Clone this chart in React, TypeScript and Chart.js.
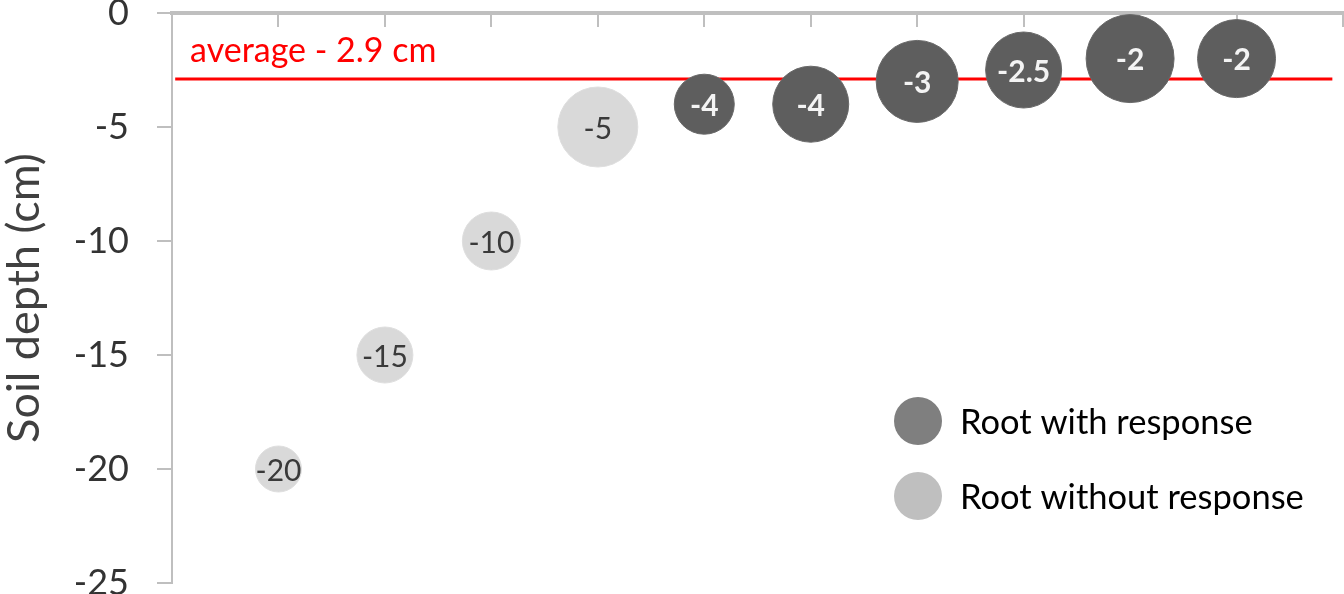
import { useEffect, useRef } from "react";
import { Chart, registerables } from "chart.js";

Chart.register(...registerables);

// ---- data ----
const rootPositions = [1, 2, 3, 4, 5, 6, 7, 8, 9, 10];
const rootDepths = [-20, -15, -10, -5, -4, -4, -3, -2.5, -2, -2];
const bubbleSizes = [23, 28, 29, 40, 30, 38, 41, 38, 44, 39];
const hasResponse = [false, false, false, false, true, true, true, true, true, true];
const averageDepth = -2.9;
const averageLabel = "average - 2.9 cm";
const seriesNames = ["Root with response", "Root without response"];
const yAxisTitle = "Soil depth (cm)";
const yMin = -25;
const yMax = 0;
const yStep = 5;
const xMin = 0;
const xMax = 11;

const FONT = 'Lato, "Noto Sans", "DejaVu Sans", sans-serif';
const DARK = "#5e5e5e";
const LIGHT = "#d9d9d9";
const LEGEND_DARK = "#7f7f7f";
const LEGEND_LIGHT = "#bfbfbf";
const AXIS_GRAY = "#bfbfbf";

function buildPoints(flag: boolean) {
  const pts: { x: number; y: number; r: number }[] = [];
  rootPositions.forEach((x, i) => {
    if (hasResponse[i] === flag) pts.push({ x, y: rootDepths[i], r: bubbleSizes[i] });
  });
  return pts;
}

const decorPlugin = {
  id: "decor",
  beforeDatasetsDraw(chart: any) {
    const { ctx, scales } = chart;
    const yPix = scales.y.getPixelForValue(averageDepth);
    const x0 = scales.x.getPixelForValue(0.03);
    const x1 = scales.x.getPixelForValue(10.9);
    ctx.save();
    ctx.strokeStyle = "#ff0000";
    ctx.lineWidth = 3;
    ctx.beginPath();
    ctx.moveTo(x0, yPix);
    ctx.lineTo(x1, yPix);
    ctx.stroke();
    ctx.fillStyle = "#ff0000";
    ctx.font = `34px ${FONT}`;
    ctx.textAlign = "left";
    ctx.textBaseline = "alphabetic";
    ctx.fillText(averageLabel, scales.x.getPixelForValue(0.17), yPix - 17);
    ctx.restore();
  },
  afterDatasetsDraw(chart: any) {
    const { ctx } = chart;
    ctx.save();
    chart.data.datasets.forEach((ds: any, di: number) => {
      const meta = chart.getDatasetMeta(di);
      meta.data.forEach((el: any, i: number) => {
        const raw = ds.data[i];
        if (ds.dark) {
          ctx.fillStyle = "#f4f4f4";
          ctx.font = `bold 30px ${FONT}`;
        } else {
          ctx.fillStyle = "#3a3a3a";
          ctx.font = `30px ${FONT}`;
        }
        ctx.textAlign = "center";
        ctx.textBaseline = "middle";
        ctx.fillText(String(raw.y), el.x, el.y + 2);
      });
    });
    // legend
    const items = [
      { label: seriesNames[0], color: LEGEND_DARK, y: 421 },
      { label: seriesNames[1], color: LEGEND_LIGHT, y: 496 },
    ];
    items.forEach((it) => {
      ctx.fillStyle = it.color;
      ctx.beginPath();
      ctx.arc(918, it.y, 24, 0, Math.PI * 2);
      ctx.fill();
      ctx.fillStyle = "#000000";
      ctx.font = `34.5px ${FONT}`;
      ctx.textAlign = "left";
      ctx.textBaseline = "middle";
      ctx.fillText(it.label, 960, it.y + 2);
    });
    ctx.restore();
  },
};

export default function App() {
  const ref = useRef<HTMLCanvasElement | null>(null);
  useEffect(() => {
    if (!ref.current) return;
    const chart = new Chart(ref.current, {
      type: "bubble",
      data: {
        datasets: [
          {
            label: seriesNames[0],
            data: buildPoints(true),
            backgroundColor: DARK,
            borderColor: "#686868",
            borderWidth: 1,
            clip: false,
            dark: true,
          } as any,
          {
            label: seriesNames[1],
            data: buildPoints(false),
            backgroundColor: LIGHT,
            borderColor: "#dedede",
            borderWidth: 1,
            clip: false,
            dark: false,
          } as any,
        ],
      },
      options: {
        animation: false,
        responsive: false,
        events: [],
        layout: { autoPadding: false, padding: { top: 13, right: 1, bottom: 11, left: 0 } },
        plugins: { legend: { display: false }, tooltip: { enabled: false } },
        scales: {
          x: {
            type: "linear",
            min: xMin,
            max: xMax,
            position: { y: 0 } as any,
            ticks: { display: false, stepSize: 1 },
            grid: { drawOnChartArea: false, drawTicks: true, tickLength: 12, color: AXIS_GRAY, lineWidth: 2 },
            border: { color: AXIS_GRAY, width: 4 },
            afterFit: (s: any) => {
              s.height = 0;
              s.paddingLeft = 0;
              s.paddingRight = 0;
            },
          },
          y: {
            type: "linear",
            min: yMin,
            max: yMax,
            ticks: {
              stepSize: yStep,
              color: "#333333",
              font: { family: FONT, size: 36, lineHeight: 0.6 },
              padding: 28,
            },
            grid: { drawOnChartArea: false, drawTicks: true, tickLength: 15, color: AXIS_GRAY, lineWidth: 2 },
            border: { color: AXIS_GRAY, width: 2 },
            title: {
              display: true,
              text: yAxisTitle,
              color: "#404040",
              font: { family: FONT, size: 45, lineHeight: 1 },
              padding: { top: 2, bottom: 0 },
            },
            afterFit: (s: any) => {
              s.width = 172;
              s.paddingTop = 0;
              s.paddingBottom = 0;
            },
          },
        },
      },
      plugins: [decorPlugin],
    });
    return () => chart.destroy();
  }, []);
  return (
    <canvas
      ref={ref}
      width={1344}
      height={594}
      style={{ position: "fixed", left: 0, top: 0, display: "block" }}
    />
  );
}
